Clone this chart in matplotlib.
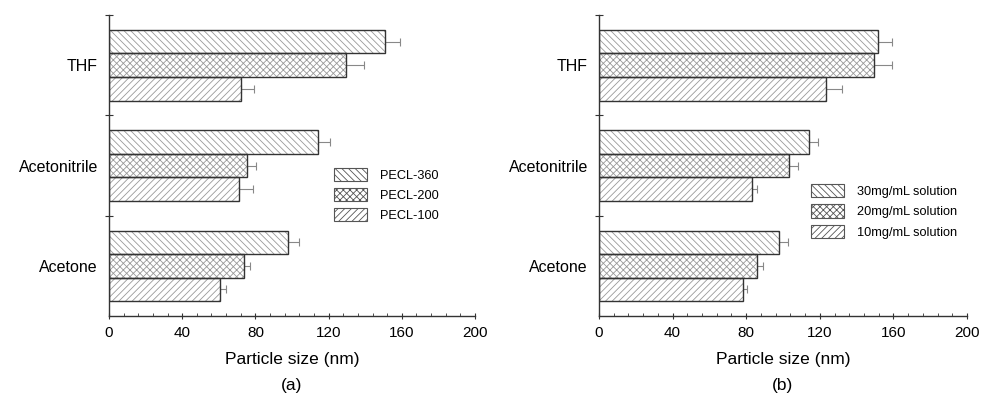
import numpy as np
import matplotlib
matplotlib.use("Agg")
import matplotlib.pyplot as plt
from matplotlib.ticker import AutoMinorLocator, FixedLocator

plt.rcParams["font.family"] = ["Liberation Sans", "DejaVu Sans"]
plt.rcParams["hatch.linewidth"] = 0.6
plt.rcParams["hatch.color"] = "#9a9a9a"

# ---- data (bottom to top) ----
solvents = ["Acetone", "Acetonitrile", "THF"]

# panel (a): polymer series
labels_a = ["PECL-360", "PECL-200", "PECL-100"]
pecl_360 = [97.8, 114, 151]
pecl_200 = [73.8, 75.4, 129.5]
pecl_100 = [60.7, 71, 72]
pecl_360_err = [6, 7, 8]
pecl_200_err = [3, 5, 10]
pecl_100_err = [3.5, 7.5, 7]

# panel (b): concentration series
labels_b = ["30mg/mL solution", "20mg/mL solution", "10mg/mL solution"]
conc_30 = [97.8, 114, 151.6]
conc_20 = [86, 103, 149.5]
conc_10 = [78, 83, 123.4]
conc_30_err = [5, 5, 7.5]
conc_20_err = [3, 5, 9.5]
conc_10_err = [2.5, 3, 8.5]

hatches = ["\\\\\\\\\\", "xxxxx", "/////"]


def draw_panel(ax, series, errs, labels, legend_anchor):
    pos = np.arange(len(solvents)) + 0.5
    h = 0.235
    offsets = [h, 0, -h]
    handles = []
    for vals, err, lab, off, hat in zip(series, errs, labels, offsets, hatches):
        y = pos + off
        ax.barh(y, vals, height=h, color="white", edgecolor="#9a9a9a",
                linewidth=0, hatch=hat, zorder=2)
        ax.barh(y, vals, height=h, fill=False, edgecolor="#333333",
                linewidth=1.0, zorder=3)
        ax.errorbar(vals, y, xerr=[np.zeros(len(vals)), err], fmt="none",
                    ecolor="#888888", elinewidth=0.8, capsize=3, capthick=0.8,
                    zorder=1)
        p = plt.Rectangle((0, 0), 1, 1, facecolor="white", edgecolor="#555555",
                          hatch=hat, linewidth=0.8)
        handles.append(p)
    ax.legend(handles, labels, loc="upper left", bbox_to_anchor=legend_anchor,
              frameon=False, fontsize=9.2, handlelength=2.6, handleheight=1.2,
              labelspacing=0.5, handletextpad=1.0, borderaxespad=0)

    ax.set_xlim(0, 200)
    ax.set_ylim(0, 3)
    ax.set_xticks([0, 40, 80, 120, 160, 200])
    ax.xaxis.set_minor_locator(AutoMinorLocator(5))
    ax.tick_params(axis="x", which="major", direction="inout", length=5,
                   labelsize=11, color="#333333", pad=5)
    ax.tick_params(axis="x", which="minor", direction="in", length=2.5,
                   color="#333333")
    ax.yaxis.set_major_locator(FixedLocator([1, 2, 3]))
    ax.set_yticklabels([])
    ax.yaxis.set_minor_locator(FixedLocator(pos))
    ax.set_yticklabels(solvents, minor=True, fontsize=11.5)
    ax.tick_params(axis="y", which="major", direction="inout", length=6,
                   color="#333333")
    ax.tick_params(axis="y", which="minor", length=0, pad=8)
    for s in ["top", "right"]:
        ax.spines[s].set_visible(False)
    for s in ["left", "bottom"]:
        ax.spines[s].set_color("#333333")
        ax.spines[s].set_linewidth(1.0)
    ax.set_xlabel("Particle size (nm)", fontsize=12.5, labelpad=8)


fig = plt.figure(figsize=(9.87, 3.98), dpi=100)
ax1 = fig.add_axes([0.1104, 0.206, 0.3709, 0.756])
ax2 = fig.add_axes([0.6069, 0.206, 0.3728, 0.756])

draw_panel(ax1, [pecl_360, pecl_200, pecl_100],
           [pecl_360_err, pecl_200_err, pecl_100_err], labels_a, (0.60, 0.51))
draw_panel(ax2, [conc_30, conc_20, conc_10],
           [conc_30_err, conc_20_err, conc_10_err], labels_b, (0.562, 0.455))

fig.text(0.1104 + 0.3709 / 2, 0.012, "(a)", ha="center", va="bottom", fontsize=12.5)
fig.text(0.6069 + 0.3728 / 2, 0.012, "(b)", ha="center", va="bottom", fontsize=12.5)

fig.savefig("out.png", dpi=100)
